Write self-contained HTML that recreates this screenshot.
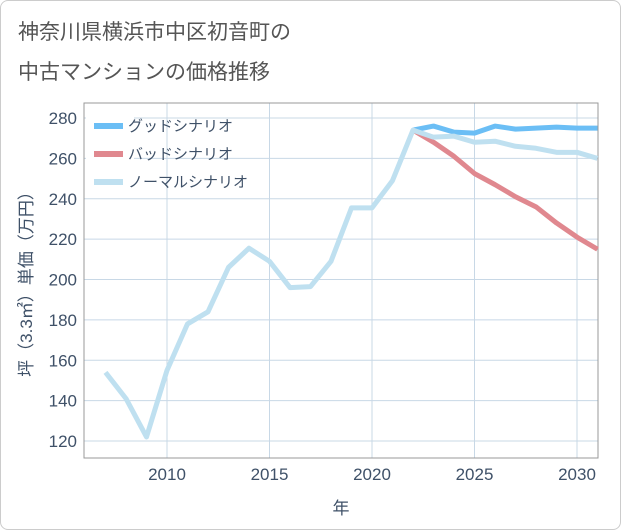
<!DOCTYPE html>
<html><head><meta charset="utf-8"><style>
body{margin:0;background:#fff;}
#c{width:619px;height:528px;position:relative;background:#fff;border:1px solid #ccc;border-radius:8px;overflow:hidden;font-family:"Liberation Sans","Noto Sans CJK JP",sans-serif;}
.t{position:absolute;left:17px;color:#555;font-size:21px;}
</style></head><body>
<div id="c">
<div class="t" style="top:15px">神奈川県横浜市中区初音町の</div>
<div class="t" style="top:55px">中古マンションの価格推移</div>
<svg id="s" width="621" height="530" style="position:absolute;left:-1px;top:-1px"></svg>
</div>
<script>
const years=[2007,2008,2009,2010,2011,2012,2013,2014,2015,2016,2017,2018,2019,2020,2021,2022,2023,2024,2025,2026,2027,2028,2029,2030,2031];
const normalVals=[154,141,122,155,178,184,206,215.5,209,196,196.5,209,235.5,235.5,249,274,270.5,271,268,268.5,266,265,263,263,260];
const goodYears=[2022,2023,2024,2025,2026,2027,2028,2029,2030,2031];
const goodVals=[274,276,273,272.5,276,274.5,275,275.5,275,275];
const badVals=[274,268,261,252.5,247,241,236,228,221,215];
const xTicks=[2010,2015,2020,2025,2030];
const yTicks=[120,140,160,180,200,220,240,260,280];
const L=84,R=598,T=103,B=458;
const TC='#3f5168';
const x=v=>167+(v-2010)*20.5;
const y=v=>441-(v-120)*323/160;
const s=document.getElementById('s');const NS='http://www.w3.org/2000/svg';
function mk(t,a,p){const e=document.createElementNS(NS,t);for(const k in a)e.setAttribute(k,a[k]);(p||s).appendChild(e);return e;}
yTicks.forEach(v=>{const l=mk('line',{x1:L,x2:R,y1:y(v),y2:y(v),stroke:'#c8d8e6','stroke-width':1});

const t=mk('text',{x:L-7,y:y(v)+6,'text-anchor':'end','font-size':17,fill:TC});t.textContent=v;
});
xTicks.forEach(v=>{const l=mk('line',{x1:x(v),x2:x(v),y1:T,y2:B,stroke:'#c8d8e6','stroke-width':1});

const t=mk('text',{x:x(v),y:B+22,'text-anchor':'middle','font-size':17,fill:TC});t.textContent=v;
});
const fr=mk('rect',{x:L,y:T,width:R-L,height:B-T,fill:'none',stroke:'#999','stroke-width':1});

function line(xs,vs,c,n){const p=mk('polyline',{points:xs.map((v,i)=>x(v)+','+y(vs[i])).join(' '),fill:'none',stroke:c,'stroke-width':5,'stroke-linejoin':'round'});
}
line(goodYears,badVals,'#e0888f','bad-scenario-line');
line(goodYears,goodVals,'#6bbef5','good-scenario-line');
line(years,normalVals,'#bfe0f0','normal-scenario-line');
const lg=mk('rect',{x:86,y:106,width:48,height:92,fill:'#fff'});

[['グッドシナリオ','#6bbef5'],['バッドシナリオ','#e0888f'],['ノーマルシナリオ','#bfe0f0']].forEach((d,i)=>{
const yy=126+i*28;const g=mk('g',{});
mk('line',{x1:94,x2:123,y1:yy,y2:yy,stroke:d[1],'stroke-width':6},g);
const t=mk('text',{x:128,y:yy+5,'font-size':15,fill:TC},g);t.textContent=d[0];});
const xt=mk('text',{x:341,y:514,'text-anchor':'middle','font-size':17,fill:TC});xt.textContent='年';

const yt=mk('text',{x:0,y:0,'text-anchor':'middle','font-size':17,fill:TC,transform:'translate(32,280) rotate(-90)'});yt.textContent='坪（3.3㎡）単価（万円）';

</script>
</body></html>
